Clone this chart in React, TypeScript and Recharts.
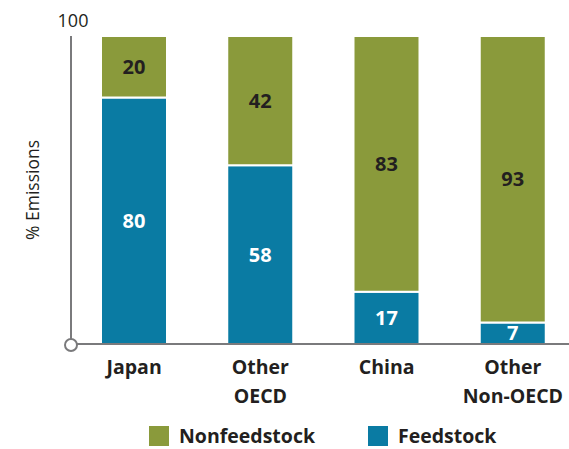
import React from 'react';
import { Bar, BarChart, LabelList, XAxis, YAxis } from 'recharts';

const regions = ['Japan', 'Other\nOECD', 'China', 'Other\nNon-OECD'];
const feedstock = [80, 58, 17, 7];
const nonfeedstock = [20, 42, 83, 93];

const GREEN = '#8A9A3B';
const BLUE = '#0A7BA3';
const AXIS = '#7a7a7c';
const FONT = '"Open Sans", sans-serif';

const data = regions.map((r, i) => ({
  region: r,
  feedstock: feedstock[i],
  nonfeedstock: nonfeedstock[i],
}));

function RegionTick(props: any) {
  const { x, y, payload } = props;
  const lines = String(payload.value).split('\n');
  return (
    <text x={x} y={y + 22} textAnchor="middle" fontFamily={FONT} fontWeight={700} fontSize={19.5} fill="#231f20">
      {lines.map((l, i) => (
        <tspan key={i} x={x} dy={i === 0 ? 0 : 29}>
          {l}
        </tspan>
      ))}
    </text>
  );
}

function ValueTick(props: any) {
  const { x, y, payload } = props;
  if (payload.value === 0) {
    return <circle cx={x} cy={y + 1} r={6} fill="#fff" stroke={AXIS} strokeWidth={2} />;
  }
  return (
    <text x={x + 2} y={y - 9} textAnchor="middle" fontFamily={FONT} fontSize={18} fill="#231f20">
      {payload.value}
    </text>
  );
}

const legendItems = [
  { label: 'Nonfeedstock', color: GREEN, left: 149 },
  { label: 'Feedstock', color: BLUE, left: 368 },
];

export default function App() {
  return (
    <div style={{ position: 'absolute', left: 0, top: 0, width: 569, height: 449, overflow: 'hidden', background: '#fff' }}>
      <BarChart width={576} height={449} data={data} margin={{ top: 36, right: 0, left: 0, bottom: 0 }}>
        <XAxis
          dataKey="region"
          height={105}
          tickLine={false}
          axisLine={{ stroke: AXIS, strokeWidth: 2 }}
          tick={<RegionTick />}
          interval={0}
        />
        <YAxis
          type="number"
          domain={[0, 100]}
          ticks={[0, 100]}
          width={71}
          tickLine={false}
          tickSize={0}
          tickMargin={0}
          axisLine={{ stroke: AXIS, strokeWidth: 2 }}
          tick={<ValueTick />}
          label={{
            value: '% Emissions',
            angle: -90,
            position: 'insideLeft',
            offset: 33,
            style: { fontFamily: FONT, fontSize: 17.5, fill: '#231f20', textAnchor: 'middle' },
          }}
        />
        <Bar dataKey="feedstock" stackId="a" fill={BLUE} barSize={66} stroke="#fff" strokeWidth={2} isAnimationActive={false}>
          <LabelList dataKey="feedstock" position="center" fill="#fff" fontFamily={FONT} fontWeight={700} fontSize={20} />
        </Bar>
        <Bar dataKey="nonfeedstock" stackId="a" fill={GREEN} barSize={66} stroke="#fff" strokeWidth={2} isAnimationActive={false}>
          <LabelList dataKey="nonfeedstock" position="center" fill="#231f20" fontFamily={FONT} fontWeight={700} fontSize={20} />
        </Bar>
      </BarChart>
      {legendItems.map((it) => (
        <div
          key={it.label}
          style={{
            position: 'absolute',
            left: it.left,
            top: 425,
            height: 22,
            lineHeight: '22px',
            display: 'flex',
            alignItems: 'center',
            fontFamily: FONT,
            fontWeight: 700,
            fontSize: 19.5,
            color: '#231f20',
          }}
        >
          <span style={{ width: 20, height: 20, background: it.color, display: 'inline-block', marginRight: 10 }} />
          {it.label}
        </div>
      ))}
    </div>
  );
}
